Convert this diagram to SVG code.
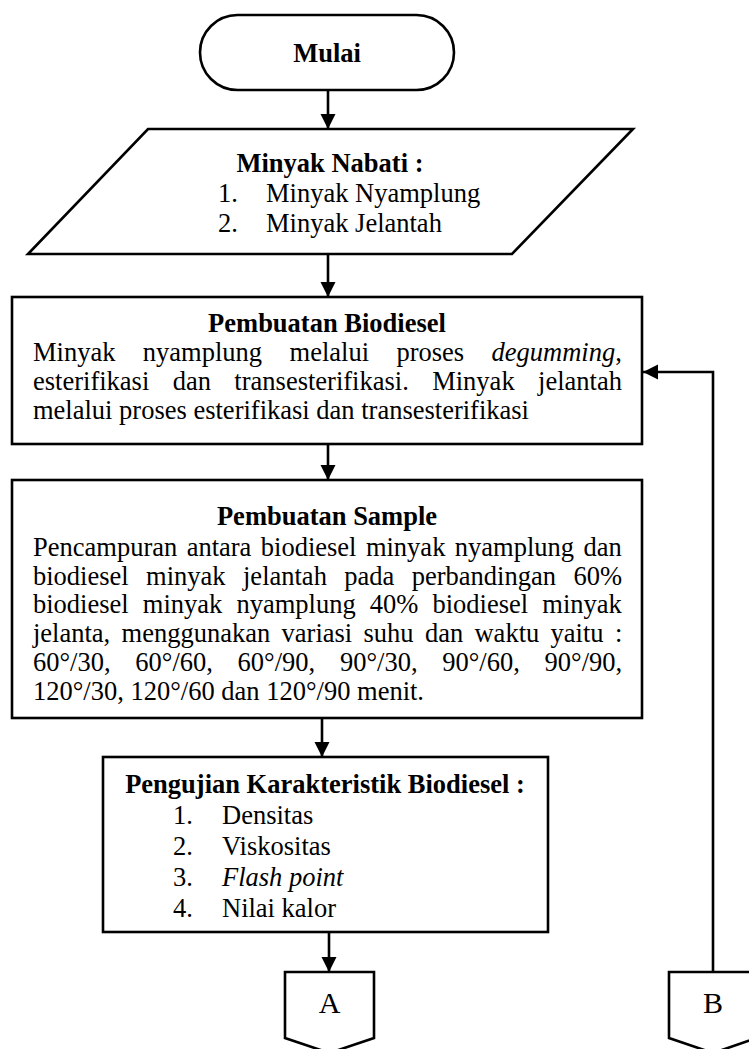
<svg xmlns="http://www.w3.org/2000/svg" width="749" height="1049" viewBox="0 0 749 1049">
  <style>
    .shape { fill: #ffffff; stroke: #000000; stroke-width: 2.6; }
    .wire { fill: none; stroke: #000000; stroke-width: 2.6; }
    text { font-family: "Liberation Serif", "Times New Roman", serif; font-size: 26.5px; fill: #000000; }
    .bold { font-weight: bold; }
    .mid { text-anchor: middle; }
    .it { font-style: italic; }
    .big { font-size: 30px; }
  </style>
  <defs>
    <marker id="head" markerUnits="userSpaceOnUse" markerWidth="16" markerHeight="16" refX="15" refY="7.5" orient="auto">
      <path d="M0,0 L15,7.5 L0,15 Z" fill="#000000"/>
    </marker>
  </defs>

  <!-- flow lines -->
  <g id="connectors">
    <line class="wire" x1="328" y1="90" x2="328" y2="129" marker-end="url(#head)"/>
    <line class="wire" x1="328" y1="254" x2="328" y2="297" marker-end="url(#head)"/>
    <line class="wire" x1="328" y1="444" x2="328" y2="480" marker-end="url(#head)"/>
    <line class="wire" x1="322" y1="718" x2="322" y2="757" marker-end="url(#head)"/>
    <line class="wire" x1="329" y1="932" x2="329" y2="972" marker-end="url(#head)"/>
    <polyline class="wire" points="713,972 713,372 643,372" marker-end="url(#head)"/>
  </g>

  <!-- start terminal -->
  <g id="start">
    <rect class="shape" x="200" y="15" width="254" height="75" rx="37.5" ry="37.5"/>
    <text class="bold mid" x="327" y="62">Mulai</text>
  </g>

  <!-- input: vegetable oils -->
  <g id="input">
    <polygon class="shape" points="148,129 633,129 512,254 28,254"/>
    <text class="bold mid" x="330" y="172">Minyak Nabati :</text>
    <text x="218" y="202">1.</text>
    <text x="266" y="202">Minyak Nyamplung</text>
    <text x="218" y="232">2.</text>
    <text x="266" y="232">Minyak Jelantah</text>
  </g>

  <!-- biodiesel production -->
  <g id="produksi">
    <rect class="shape" x="12" y="297" width="630" height="147"/>
    <text class="bold mid" x="327" y="332">Pembuatan Biodiesel</text>
    <text x="33" y="361" word-spacing="20.8">Minyak nyamplung melalui proses <tspan class="it">degumming</tspan>,</text>
    <text x="33" y="390" word-spacing="16.8">esterifikasi dan transesterifikasi. Minyak jelantah</text>
    <text x="33" y="419">melalui proses esterifikasi dan transesterifikasi</text>
  </g>

  <!-- sample preparation -->
  <g id="sampel">
    <rect class="shape" x="12" y="480" width="630" height="238"/>
    <text class="bold mid" x="327" y="525">Pembuatan Sample</text>
    <text x="33" y="556" word-spacing="2.8">Pencampuran antara biodiesel minyak nyamplung dan</text>
    <text x="33" y="585" word-spacing="10.8">biodiesel minyak jelantah pada perbandingan 60%</text>
    <text x="33" y="613" word-spacing="7.5">biodiesel minyak nyamplung 40% biodiesel minyak</text>
    <text x="33" y="642" word-spacing="4.7">jelanta, menggunakan variasi suhu dan waktu yaitu :</text>
    <text x="33" y="671" word-spacing="18.1">60°/30, 60°/60, 60°/90, 90°/30, 90°/60, 90°/90,</text>
    <text x="33" y="700">120°/30, 120°/60 dan 120°/90 menit.</text>
  </g>

  <!-- characterisation tests -->
  <g id="pengujian">
    <rect class="shape" x="103" y="757" width="445" height="175"/>
    <text class="bold mid" x="325" y="793">Pengujian Karakteristik Biodiesel :</text>
    <text x="173" y="824">1.</text>
    <text x="222" y="824">Densitas</text>
    <text x="173" y="855">2.</text>
    <text x="222" y="855">Viskositas</text>
    <text x="173" y="886">3.</text>
    <text class="it" x="222" y="886">Flash point</text>
    <text x="173" y="917">4.</text>
    <text x="222" y="917">Nilai kalor</text>
  </g>

  <!-- off-page connectors -->
  <g id="konektor-a">
    <polygon class="shape" points="285,972 374,972 374,1038 329.5,1053 285,1038"/>
    <text class="mid big" x="329.5" y="1013">A</text>
  </g>
  <g id="konektor-b">
    <polygon class="shape" points="669,972 757,972 757,1038 713,1053 669,1038"/>
    <text class="mid big" x="713" y="1013">B</text>
  </g>
</svg>
